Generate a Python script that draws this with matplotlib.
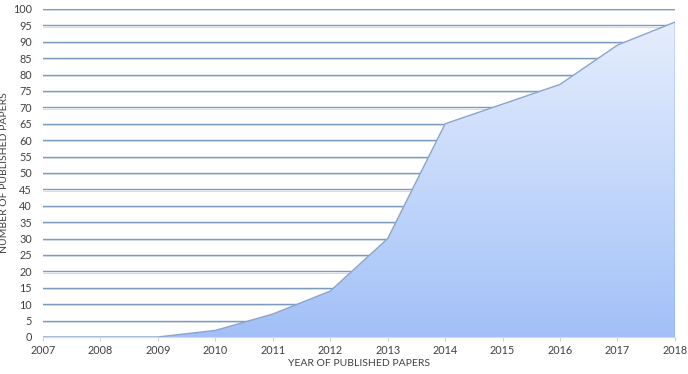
import numpy as np
import matplotlib.pyplot as plt
from matplotlib.colors import LinearSegmentedColormap

years = [2007, 2008, 2009, 2010, 2011, 2012, 2013, 2014, 2015, 2016, 2017, 2018]
papers = [0, 0, 0, 2, 7, 14, 30, 65, 71, 77, 89, 96]
yticks = list(range(0, 101, 5))

plt.rcParams['font.family'] = ['Lato', 'DejaVu Sans']

fig = plt.figure(figsize=(6.88, 3.74), dpi=100)
ax = fig.add_axes([0.0625, 0.099, 0.9185, 0.877])

ax.set_xlim(2007, 2018)
ax.set_ylim(0, 100)

# grid lines
for y in yticks[1:]:
    ax.axhline(y, color='#7d9bbd', lw=1.0, zorder=1)
    ax.axhline(y - 0.35, color='#c9d6e6', lw=0.6, zorder=1)

# gradient fill clipped to the area
poly = ax.fill_between(years, papers, 0, color='none', lw=0, zorder=2)
cmap = LinearSegmentedColormap.from_list('g', ['#a2c0f7', '#c6d9fb', '#e8effd'])
grad = np.linspace(0, 1, 256).reshape(-1, 1)
im = ax.imshow(grad, extent=[2007, 2018, 0, 100], origin='lower', aspect='auto',
               cmap=cmap, zorder=2)
path = poly.get_paths()[0]
im.set_clip_path(path, transform=ax.transData)

ax.plot(years, papers, color='#8aa5cf', lw=1.0, zorder=3)
ax.plot([2018, 2018], [0, papers[-1]], color='#5f7fb3', lw=1.0, zorder=3)

ax.set_xticks(years)
ax.set_yticks(yticks)
ax.tick_params(axis='x', length=3, color='#d0d0d0', labelsize=7.8, labelcolor='#404040', pad=3)
ax.tick_params(axis='y', length=0, labelsize=7.8, labelcolor='#404040', pad=8)
for s in ['top', 'right', 'left']:
    ax.spines[s].set_visible(False)
ax.spines['bottom'].set_color('#d8d8d8')

ax.set_xlabel('YEAR OF PUBLISHED PAPERS', fontsize=7.5, color='#404040', labelpad=2)
ax.set_ylabel('NUMBER OF PUBLISHED PAPERS', fontsize=7.5, color='#404040', labelpad=3)

fig.savefig('out.png', dpi=100)
